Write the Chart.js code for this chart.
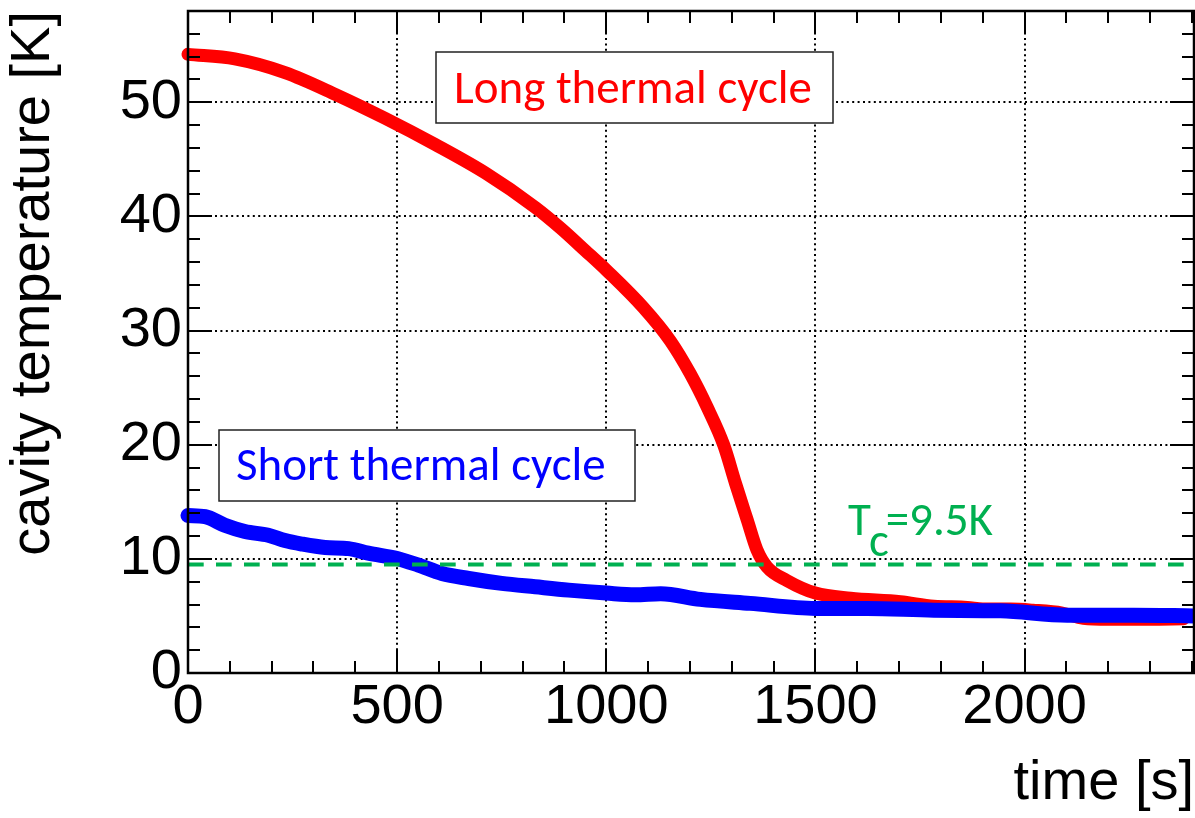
<!DOCTYPE html>
<html>
<head>
<meta charset="utf-8">
<title>cavity temperature</title>
<script src="https://cdn.jsdelivr.net/npm/chart.js@4.4.1/dist/chart.umd.min.js"></script>
<style>
  html, body { margin: 0; padding: 0; background: #fff; }
  #wrap { width: 1195px; height: 818px; position: relative; }
</style>
</head>
<body>
<div id="wrap"><canvas id="grafico"></canvas></div>
<script>
// Long thermal cycle: time [s] and cavity temperature [K]
const longTempo = [0, 112, 232, 352, 471, 591, 711, 830, 890, 950, 1000, 1089, 1153, 1201, 1241,
  1281, 1309, 1337, 1360, 1384, 1432, 1500, 1584, 1703, 1783, 1863, 1900, 1967, 2020, 2090,
  2140, 2200, 2300, 2380];
const longTemp = [54.2, 53.8, 52.6, 50.7, 48.6, 46.3, 43.8, 40.8, 39.0, 37.0, 35.3, 32.0, 29.1, 26.2, 23.3,
  19.95, 16.6, 13.4, 10.8, 9.3, 8.1, 7.0, 6.55, 6.25, 5.85, 5.75, 5.6, 5.6, 5.5, 5.25,
  4.8, 4.72, 4.72, 4.75];

// Short thermal cycle
const shortTempo = [0, 41, 88, 136, 192, 232, 272, 328, 384, 431, 500, 551, 607, 671, 750, 830,
  910, 1000, 1069, 1130, 1225, 1344, 1500, 1624, 1783, 1943, 2102, 2261, 2405];
const shortTemp = [13.8, 13.7, 12.95, 12.4, 12.07, 11.6, 11.3, 11.0, 10.9, 10.5, 10.04, 9.45, 8.72, 8.28, 7.85, 7.55,
  7.26, 7.0, 6.85, 6.95, 6.45, 6.1, 5.66, 5.66, 5.5, 5.45, 5.07, 5.07, 5.0];

// critical temperature
const tc = 9.5;

// axis ranges, labelled ticks and minor tick steps
const xMin = 0, xMax = 2405, xPassoMenor = 100;
const yMin = 0, yMax = 58, yPassoMenor = 2;
const xRotulos = [0, 500, 1000, 1500, 2000];
const yRotulos = [0, 10, 20, 30, 40, 50];

const pontos = (xs, ys) => xs.map((x, i) => ({ x: x, y: ys[i] }));

const fonteEixo = "'Liberation Sans', Arial, Helvetica, sans-serif";
const fonteCaixa = "Carlito, Lato, 'Open Sans', sans-serif";

// no extra padding for labels sitting on the frame edges
function semPadding(s) {
  s.paddingLeft = 0; s.paddingRight = 0;
  s.paddingTop = 0; s.paddingBottom = 0;
}

// ROOT style frame, inward ticks, text boxes and Tc label
const molduraRoot = {
  id: 'molduraRoot',
  afterDatasetsDraw(chart) {
    const ctx = chart.ctx;
    const a = chart.chartArea;
    const sx = chart.scales.x, sy = chart.scales.y;

    ctx.save();
    ctx.strokeStyle = '#000';
    ctx.lineWidth = 2;
    ctx.beginPath();
    for (let v = xMin; v <= xMax; v += xPassoMenor) {
      const px = Math.round(sx.getPixelForValue(v));
      const len = xRotulos.includes(v) ? 23 : 12;
      ctx.moveTo(px, a.bottom); ctx.lineTo(px, a.bottom - len);
      ctx.moveTo(px, a.top); ctx.lineTo(px, a.top + len);
    }
    for (let v = yMin; v <= yMax; v += yPassoMenor) {
      const py = Math.round(sy.getPixelForValue(v));
      const len = yRotulos.includes(v) ? 24 : 12;
      ctx.moveTo(a.left, py); ctx.lineTo(a.left + len, py);
      ctx.moveTo(a.right, py); ctx.lineTo(a.right - len, py);
    }
    ctx.stroke();

    ctx.lineWidth = 2.5;
    ctx.strokeRect(a.left, a.top, a.right - a.left, a.bottom - a.top);

    // font size that fits the long label into its box
    ctx.font = '100px ' + fonteCaixa;
    const tam = 100 * 358 / ctx.measureText('Long thermal cycle').width;
    ctx.font = tam + 'px ' + fonteCaixa;
    ctx.textAlign = 'left';
    ctx.textBaseline = 'alphabetic';

    const caixa = (texto, cor, x0, y0, w, h, tx, base) => {
      ctx.fillStyle = '#fff';
      ctx.fillRect(x0, y0, w, h);
      ctx.strokeStyle = '#222';
      ctx.lineWidth = 1.5;
      ctx.strokeRect(x0, y0, w, h);
      ctx.fillStyle = cor;
      ctx.fillText(texto, tx, base);
    };
    caixa('Long thermal cycle', '#ff0000', 436, 52, 397, 71, 454, 103);
    caixa('Short thermal cycle', '#0000ff', 219, 430, 416, 71, 236, 480);

    // T_c label
    ctx.fillStyle = '#00b050';
    let x = 848;
    ctx.fillText('T', x, 535);
    x += ctx.measureText('T').width - 2;
    ctx.fillText('c', x, 556);
    x += ctx.measureText('c').width - 3;
    ctx.fillText('=9.5K', x, 535);
    ctx.restore();
  }
};

const grafico = new Chart(document.getElementById('grafico'), {
  type: 'line',
  data: {
    datasets: [
      {
        label: 'Tc',
        data: [{ x: xMin, y: tc }, { x: xMax, y: tc }],
        borderColor: '#00b050',
        borderWidth: 4,
        borderDash: [15.7, 12.3],
        pointRadius: 0
      },
      {
        label: 'Short thermal cycle',
        data: pontos(shortTempo, shortTemp),
        borderColor: '#0000ff',
        borderWidth: 15,
        borderCapStyle: 'round',
        borderJoinStyle: 'round',
        cubicInterpolationMode: 'monotone',
        pointRadius: 0,
        clip: { left: 8, top: 0, right: 0, bottom: 0 }
      },
      {
        label: 'Long thermal cycle',
        data: pontos(longTempo, longTemp),
        borderColor: '#ff0000',
        borderWidth: 13,
        borderCapStyle: 'round',
        borderJoinStyle: 'round',
        cubicInterpolationMode: 'monotone',
        pointRadius: 0,
        clip: { left: 8, top: 0, right: 0, bottom: 0 }
      }
    ]
  },
  options: {
    responsive: true,
    maintainAspectRatio: false,
    animation: false,
    devicePixelRatio: 1,
    layout: { padding: { top: 11, right: 1, left: 0, bottom: 0 } },
    plugins: {
      legend: { display: false },
      tooltip: { enabled: false }
    },
    scales: {
      x: {
        type: 'linear',
        min: xMin,
        max: xMax,
        afterBuildTicks: (s) => { s.ticks = xRotulos.map(v => ({ value: v })); },
        afterFit: (s) => { s.height = 145; semPadding(s); },
        ticks: {
          color: '#000',
          padding: 1,
          maxRotation: 0,
          autoSkip: false,
          callback: (v) => String(v),
          font: { family: fonteEixo, size: 56 }
        },
        grid: { color: '#000', lineWidth: 2, drawTicks: false },
        border: { display: false, dash: [2, 3.4] },
        title: {
          display: true,
          text: 'time [s]',
          align: 'end',
          color: '#000',
          padding: { top: 0, bottom: 1 },
          font: { family: fonteEixo, size: 56 }
        }
      },
      y: {
        type: 'linear',
        min: yMin,
        max: yMax,
        afterBuildTicks: (s) => { s.ticks = yRotulos.map(v => ({ value: v })); },
        afterFit: (s) => { s.width = 188; semPadding(s); },
        ticks: {
          color: '#000',
          padding: 6,
          autoSkip: false,
          callback: (v) => String(v),
          font: { family: fonteEixo, size: 56 }
        },
        grid: { color: '#000', lineWidth: 2, drawTicks: false },
        border: { display: false, dash: [2, 3.4] },
        title: {
          display: true,
          text: 'cavity temperature [K]',
          align: 'end',
          color: '#000',
          padding: { top: 0, bottom: 0 },
          font: { family: fonteEixo, size: 56 }
        }
      }
    }
  },
  plugins: [molduraRoot]
});
</script>
</body>
</html>
